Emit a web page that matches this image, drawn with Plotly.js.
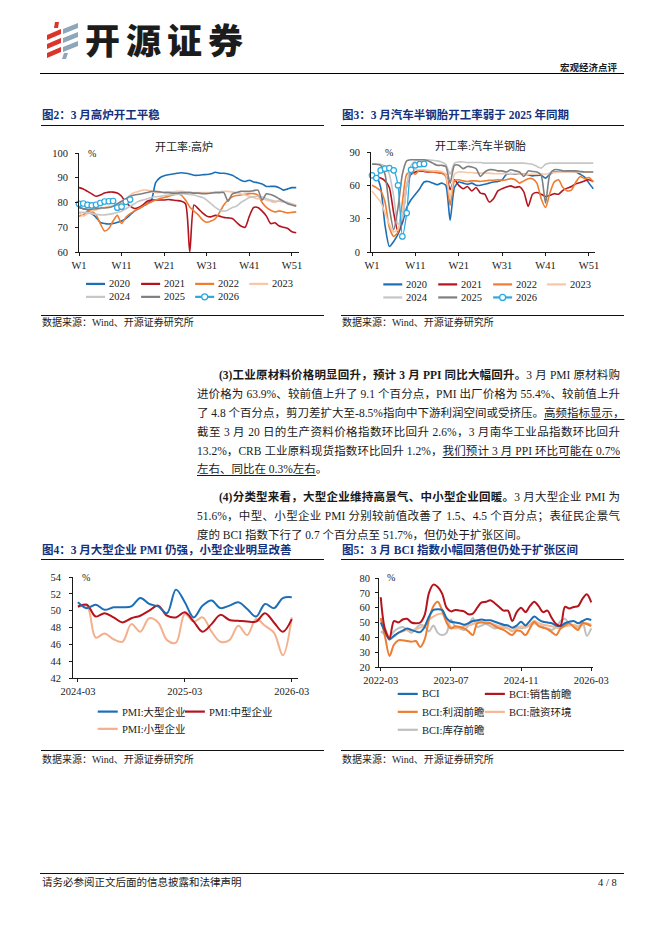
<!DOCTYPE html>
<html>
<head>
<meta charset="utf-8">
<script src="https://cdn.plot.ly/plotly-3.0.1.min.js"></script>
<style>
html,body{margin:0;padding:0;background:#fff;}
#page{position:relative;width:662px;height:936px;overflow:hidden;background:#fff;font-family:"Liberation Serif","Noto Sans CJK SC",serif;color:#1a1a1a;}
.a{position:absolute;white-space:nowrap;}
.rule{position:absolute;height:0;border-top:1px solid #111;}
.ft{position:absolute;white-space:nowrap;font-weight:bold;font-size:11.5px;line-height:14px;color:#15307c;}
.src{position:absolute;white-space:nowrap;font-size:10px;line-height:12px;color:#222;}
.ln{position:absolute;left:197px;width:423px;font-size:11.5px;line-height:19px;height:19px;white-space:nowrap;text-align:justify;text-align-last:justify;}
.ln.first{left:219px;width:401px;}
.ln.last{text-align-last:left;}
.u{text-decoration:underline;text-underline-offset:2px;text-decoration-thickness:1px;}
.chart{position:absolute;}
</style>
</head>
<body>
<div id="page">
  <!-- header -->
  <svg class="a" style="left:0;top:0" width="100" height="70">
    <polygon points="55,22 59,22 58,28 54,28" fill="#d9352b"/>
    <polygon points="47,35 61,29 61,34 47,40" fill="#d9352b"/>
    <polygon points="47,44 61,38 61,43 47,49" fill="#d9352b"/>
    <polygon points="47,53 61,47 61,52 47,58" fill="#d9352b"/>
    <polygon points="63,29 78,23 78,28 63,34" fill="#8ea6ba"/>
    <polygon points="63,38 78,32 78,37 63,43" fill="#8ea6ba"/>
    <polygon points="63,47 78,41 78,46 63,52" fill="#8ea6ba"/>
    <polygon points="64,53 68,53 66,59 62,59" fill="#8ea6ba"/>
  </svg>
  <div class="a" style="left:85px;top:20px;font-family:'Noto Sans CJK SC';font-weight:900;font-size:35px;line-height:38px;letter-spacing:6px;color:#1c1c1c;">开源证券</div>
  <div class="a" style="left:560px;top:61px;font-family:'Noto Sans CJK SC';font-weight:bold;font-size:9.5px;line-height:12px;">宏观经济点评</div>
  <div class="rule" style="left:40px;top:73px;width:584px;border-top:1.5px solid #000;"></div>

  <!-- figure titles top -->
  <div class="ft" style="left:42px;top:108px;">图2：3 月高炉开工平稳</div>
  <div class="rule" style="left:41px;top:125px;width:283px;"></div>
  <div class="ft" style="left:342px;top:108px;">图3：3 月汽车半钢胎开工率弱于 2025 年同期</div>
  <div class="rule" style="left:341px;top:125px;width:283px;"></div>

  <div id="c2" class="chart" style="left:30px;top:132px;width:300px;height:180px;"></div>
  <div id="c3" class="chart" style="left:330px;top:132px;width:300px;height:180px;"></div>

  <div class="rule" style="left:41px;top:315px;width:283px;"></div>
  <div class="src" style="left:42px;top:317px;">数据来源：Wind、开源证券研究所</div>
  <div class="rule" style="left:341px;top:315px;width:283px;"></div>
  <div class="src" style="left:342px;top:317px;">数据来源：Wind、开源证券研究所</div>

  <!-- body text -->
  <div class="ln first" style="top:365.5px;"><b>(3)工业原材料价格明显回升，预计 3 月 PPI 同比大幅回升。</b>3 月 PMI 原材料购</div>
  <div class="ln" style="top:384.5px;">进价格为 63.9%、较前值上升了 9.1 个百分点，PMI 出厂价格为 55.4%、较前值上升</div>
  <div class="ln" style="top:403.5px;">了 4.8 个百分点，剪刀差扩大至-8.5%指向中下游利润空间或受挤压。<span class="u">高频指标显示，</span></div>
  <div class="ln" style="top:422.5px;">截至 3 月 20 日的生产资料价格指数环比回升 2.6%，3 月南华工业品指数环比回升</div>
  <div class="ln" style="top:441.5px;">13.2%，CRB 工业原料现货指数环比回升 1.2%，<span class="u">我们预计 3 月 PPI 环比可能在 0.7%</span></div>
  <div class="ln last" style="top:460px;"><span class="u">左右、同比在 0.3%左右</span>。</div>

  <div class="ln first" style="top:487.5px;"><b>(4)分类型来看，大型企业维持高景气、中小型企业回暖。</b>3 月大型企业 PMI 为</div>
  <div class="ln" style="top:506.5px;">51.6%，中型、小型企业 PMI 分别较前值改善了 1.5、4.5 个百分点；表征民企景气</div>
  <div class="ln last" style="top:525.5px;">度的 BCI 指数下行了 0.7 个百分点至 51.7%，但仍处于扩张区间。</div>

  <!-- figure titles bottom -->
  <div class="ft" style="left:42px;top:543px;">图4：3 月大型企业 PMI 仍强，小型企业明显改善</div>
  <div class="rule" style="left:41px;top:559px;width:283px;"></div>
  <div class="ft" style="left:342px;top:543px;">图5：3 月 BCI 指数小幅回落但仍处于扩张区间</div>
  <div class="rule" style="left:341px;top:559px;width:283px;"></div>

  <div id="c4" class="chart" style="left:30px;top:562px;width:300px;height:180px;"></div>
  <div id="c5" class="chart" style="left:330px;top:562px;width:300px;height:180px;"></div>

  <div class="rule" style="left:41px;top:750px;width:283px;"></div>
  <div class="src" style="left:42px;top:754px;">数据来源：Wind、开源证券研究所</div>
  <div class="rule" style="left:341px;top:750px;width:283px;"></div>
  <div class="src" style="left:342px;top:754px;">数据来源：Wind、开源证券研究所</div>

  <!-- footer -->
  <div class="rule" style="left:40px;top:873px;width:584px;"></div>
  <div class="a" style="left:42px;top:876px;font-size:10.5px;line-height:13px;">请务必参阅正文后面的信息披露和法律声明</div>
  <div class="a" style="left:598px;top:876px;font-size:10.5px;line-height:13px;">4 / 8</div>
</div>

<script>
// ---------------- DATA ----------------
const weekCats = Array.from({length: 52}, (_, i) => 'W' + (i + 1));
const weekTicks = ['W1', 'W11', 'W21', 'W31', 'W41', 'W51'];
const yearNames = ['2020', '2021', '2022', '2023', '2024', '2025', '2026'];

// 开工率:高炉 (%)
const blast2020 = [78,77.5,77,75.5,74,72,71.5,71.3,71.5,72, 72.5,73.5,75,76.5,77.5,78.5,79.5,81,88,90, 90.8,91.2,91.5,91.8,92,91.8,91.5,91,91,91.2, 91.3,91.6,92.2,91.8,91.8,91.5,91,90,89,88.5, 89,88.3,88,87.5,86.5,86.5,86.5,86,85,85.5, 86,86];
const blast2021 = [86,85.5,84.5,83.5,82.5,83,83.8,84.2,84.2,83.8, 82.5,80,78.5,77.6,78,79,80.5,81,81,81, 81,81.2,81,80.8,80.5,79.5,60,79,77.5,75.8, 74.5,74.2,74.8,74.5,74,73.8,73.5,72,70.5,70, 74.5,78,78,76.5,74.5,71.5,71.8,70.5,70,69.5, 68.2,67.8];
const blast2022 = [74.5,75,76.5,76.5,75,71.5,68.5,69.5,72.5,74.8, 71.5,74,75.5,76.5,77.5,78.5,79.5,80.2,81,81.6, 82,82.5,83,83.5,83,81,78.2,76.5,75,73, 72,72.5,73.5,76,79,81,82.3,82.8,83,83.3, 83.6,83.6,83,80,78,76.9,76.2,76.6,76.2,75.8, 76,76.2];
const blast2023 = [76,74.5,75.5,76.5,77,77.5,78,78.5,78.5,79, 80,81.5,83,84,84.5,85,85,84.5,84,84, 84.2,84.3,84.3,84.5,84.5,84.3,84.2,84,84,84, 84,84,84.2,84.3,84.5,84.5,84.3,84,83.5,83, 82.5,82,81.5,81.5,81,80.5,80,81,80.5,80, 79.5,79];
const blast2024 = [76,76,75.8,75.5,75.2,75,75,75.2,75.5,76, 76.5,77.5,78.5,79.5,80.5,81,81.5,82,82.3,82.5, 82.8,83,83.2,83.3,83.5,83.5,83.2,83,82.5,82, 81,79.5,78,77,76.5,77,78,78.5,80,81, 82,82.3,82.5,82.3,81.5,81,80.5,80.5,80.2,80, 79,78.5];
const blast2025 = [78,77.5,77.3,77.3,77.5,77.8,77.8,78,78.5,79.5, 80.5,81.5,82.5,83,83.3,83.6,84,84.5,84.5,84.3, 84,84,83.8,83.8,84,84,84,83.8,83.8,83.6, 83.6,83.8,84,84,84,80.5,83.5,84,84.5,84.5, 84.5,84.8,85,81,83.5,83.2,82.5,81.5,80.5,79.5, 79,78.6];
const blast2026 = [79.5,79.6,79.0,78.8,79.1,79.8,80.4,80.5,80.6,77.9,78.3,80.3,81.2];

// 开工率:汽车半钢胎 (%)
const tire2020 = [67,68,58,24,5,9.5,16,26,40,47, 52,57,63,63.5,62,60.5,62,60,28.5,58, 63,62,61,62,60,60,61,62,63,63.5, 65,70,70.5,70,70,70,69.5,68.5,69,69, 66.5,70,72,72.5,72.5,72.5,72.5,72,70,67.5, 62,57];
const tire2021 = [68,67.5,66.5,64,58,35,18,30,60,70, 72,73,72.5,72,72,71.5,71,70,56,65, 60,57,59,55,58,53,52,45,48,55, 57,58.5,59.5,58,58.8,54,41,52,53.5,52, 50,51,52.5,52,55.5,57.5,59,61.5,62.5,64, 65,63.5];
const tire2022 = [60,58,55,45,22,14,18,45,70,72, 70,74,73,72.5,72,72,71,68,42,64, 65,64,63.5,64,64,63.5,64,64.5,64.5,65, 64.5,65,66,65,62,64,66,66,62,48, 40,53,63,65,58,55,56,63,68,66, 67,63];
const tire2023 = [55,50,45,35,25,18,20,35,60,72, 74,74,74,73.5,73,73,72.5,70,48,70, 72,72,71.5,71.5,71,71,71,71,70.5,70.5, 70.5,70.5,70.5,70.5,70,70,70,70,70,70.5, 70,71,71.5,72,72,72,72,72,72,72, 72,72];
const tire2024 = [79,79,79,77,70,50,25,30,60,78, 82,83,83,83,82.5,82,81,79,70,80, 81,81,80.5,80.5,80.5,80.5,80,80,80,80, 80,80,80,80,80,80,79.5,79,77,75.5, 79,80,80,80,80,80,80,80,80,80, 80,80];
const tire2025 = [79,79,78,70,40,20,40,70,82,83, 83,83,83,82,80,78,78,77,62,78, 78,75,77,76.5,75,68,72,74,74,73, 73,72,74,73,72,68,73,72.5,72,69, 44,70,74,74,73,73,73,73,72.5,72, 72,72];
const tire2026 = [69,66.5,73.5,75,75.5,73.5,60,14,35,74,78,79,79.3];

// PMI (%), 2024-03 .. 2026-03
const pmiNames = ['PMI:大型企业', 'PMI:中型企业', 'PMI:小型企业'];
const pmiLarge  = [51.0,50.3,50.7,50.1,50.4,50.4,50.5,51.5,50.8,50.5,49.7,52.5,51.0,49.2,50.6,51.2,50.3,50.6,51.0,50.2,49.3,50.8,50.3,51.5,51.6];
const pmiMedium = [50.5,50.7,49.3,49.7,49.2,48.6,49.1,49.4,50.0,50.6,49.4,49.2,49.8,48.7,47.5,48.4,49.5,48.9,48.8,48.7,48.7,49.7,48.6,47.5,49.0];
const pmiSmall  = [50.4,50.6,46.8,47.3,46.6,46.3,48.4,47.5,49.1,48.6,46.5,46.2,49.6,48.7,49.2,47.5,46.3,46.5,48.2,47.1,49.0,48.2,47.4,44.7,49.2];
const pmiTicks = ['2024-03', '2025-03', '2026-03'];

// BCI (%), 2022-03 .. 2026-03
const bciNames = ['BCI', 'BCI:销售前瞻', 'BCI:利润前瞻', 'BCI:融资环境', 'BCI:库存前瞻'];
const bciIndex     = [50,44,38.5,41,43,44.5,46,45,44,43.5, 47,54,58.5,59,58.5,53,50.5,50,49.5,48.5, 49.5,51,51.5,52,51.5,51.5,50.5,49.5,48.5,48, 46.5,48,50.5,48,51,54,52,50.5,50,49.5, 48,47.5,49.5,50.5,51,49.5,51,52.4,51.7];
const bciSales     = [67,45,39.5,51,50,52,52.5,50,49.5,50, 55,70,75.5,74,69.5,60,57.5,58.5,58,57.5, 55.5,56,60,63.5,64,65,63,60.5,58,58, 51,57,60,57,61,64,61,57,58,53, 49,48,60.5,59.5,60.5,61,66,69,63.5];
const bciProfit    = [53,40,27.5,35,38,38,37.5,37,37.5,33.5, 38.5,52,61,64,58,50,46,47.5,47,46, 44,41.5,49.5,50,49.5,49.5,47.5,46,45,43, 41.5,44.5,44,41.5,46,50.5,47.5,46.5,45.5,43.5, 41.5,46,48,49.5,47,45,49.5,49,47.5];
const bciFinance   = [52,46,40,40.5,43,44,45,44,45.5,46.5, 48,52,54,55.5,56,52,47,46,46.5,47.5, 48,49,50.5,50.5,50,49.5,48.5,47.5,46.5,46, 44.5,45.5,47.5,46.5,48.5,51,49.5,48.5,48,47.5, 46.5,46,47.5,48,48.5,47.5,48.5,49.5,48.5];
const bciInventory = [44,42,40.5,44,46,47,45,43,46,48.5, 47.5,44,48,43,41.5,43,52,47,46,45, 48,53,47,48,49,47.5,46,47,47.5,46, 44,47,46,47,48,49.5,48,47,46,45, 47,51,52.5,49,48,46.5,50.5,41,46];
const bciTicks = ['2022-03', '2023-07', '2024-11', '2026-03'];

function monthLabels(y, m, n) {
  const out = [];
  for (let i = 0; i < n; i++) {
    out.push(y + '-' + String(m).padStart(2, '0'));
    m++; if (m > 12) { m = 1; y++; }
  }
  return out;
}
const pmiMonths = monthLabels(2024, 3, pmiLarge.length);
const bciMonths = monthLabels(2022, 3, bciIndex.length);

// ---------------- STYLE / HELPERS ----------------
const FONT = 'Liberation Serif, Noto Sans CJK SC, serif';
const yearColors = ['#1c6fb6', '#b3141e', '#ee7d31', '#f7c7a8', '#c6c6c6', '#7f7f7f', '#29a9e0'];
const pmiColors = ['#1c6fb6', '#b3141e', '#f4b08c'];
const bciColors = ['#1c6fb6', '#b3141e', '#ed7d31', '#f6b991', '#bfbfbf'];

function geo(div, plot) {
  return {div, l: plot.x0 - div.left, t: plot.y0 - div.top, w: plot.x1 - plot.x0, h: plot.y1 - plot.y0};
}
function px(g, x) { return (x - g.div.left - g.l) / g.w; }
function py(g, y) { return 1 - (y - g.div.top - g.t) / g.h; }

function axis(extra) {
  return Object.assign({
    showline: true, linecolor: '#1a1a1a', linewidth: 1,
    ticks: 'outside', ticklen: 3, tickwidth: 1, tickcolor: '#1a1a1a',
    showgrid: false, zeroline: false, fixedrange: true, automargin: false,
    tickfont: {family: FONT, size: 10.5, color: '#1a1a1a'}
  }, extra);
}

function legendBits(g, items) {
  const shapes = [], ann = [];
  items.forEach(it => {
    shapes.push({type: 'line', xref: 'paper', yref: 'paper', x0: px(g, it.x0), x1: px(g, it.x1),
      y0: py(g, it.y), y1: py(g, it.y), line: {color: it.color, width: 2.2}});
    if (it.marker) {
      const cx = (it.x0 + it.x1) / 2, r = 3;
      shapes.push({type: 'circle', xref: 'paper', yref: 'paper', x0: px(g, cx - r), x1: px(g, cx + r),
        y0: py(g, it.y + r), y1: py(g, it.y - r), line: {color: it.color, width: 1.3}, fillcolor: '#fff'});
    }
    ann.push({xref: 'paper', yref: 'paper', x: px(g, it.x1 + 2), y: py(g, it.y), xanchor: 'left', yanchor: 'middle',
      text: it.name, showarrow: false, font: {family: FONT, size: 10.5, color: '#1a1a1a'}});
  });
  return {shapes, ann};
}

function textAnn(g, x, y, text, size, anchor) {
  return {xref: 'paper', yref: 'paper', x: px(g, x), y: py(g, y), xanchor: anchor || 'center', yanchor: 'middle',
    text, showarrow: false, font: {family: FONT, size, color: '#1a1a1a'}};
}

function baseLayout(g) {
  return {
    width: g.div.width, height: g.div.height,
    margin: {l: g.l, t: g.t, r: g.div.width - g.l - g.w, b: g.div.height - g.t - g.h, pad: 0},
    paper_bgcolor: 'rgba(0,0,0,0)', plot_bgcolor: 'rgba(0,0,0,0)',
    showlegend: false, font: {family: FONT, size: 10.5, color: '#1a1a1a'}, hovermode: false
  };
}
const cfg = {staticPlot: true, displayModeBar: false, responsive: false};

function weekTraces(series, smooth) {
  return series.map((ys, i) => {
    const last = i === series.length - 1;
    const tr = {
      type: 'scatter', mode: last ? 'lines+markers' : 'lines',
      x: weekCats.slice(0, ys.length), y: ys, name: yearNames[i],
      line: {color: yearColors[i], width: last ? 1.3 : 1.6, shape: 'spline', smoothing: smooth},
      cliponaxis: !last, hoverinfo: 'skip'
    };
    if (last) tr.marker = {symbol: 'circle', size: 5.5, color: '#fff', line: {color: yearColors[i], width: 1.2}};
    return tr;
  });
}

function yearLegend(g, xs, rows) {
  const items = yearNames.map((n, i) => ({
    name: n, color: yearColors[i], x0: xs[i % 4], x1: xs[i % 4] + 19, y: rows[Math.floor(i / 4)], marker: i === yearNames.length - 1
  }));
  return legendBits(g, items);
}

function safePlot(id, traces, L) {
  try { Plotly.newPlot(id, traces, L, cfg); } catch (e) { console.error(e); }
}

// ---------------- CHART 2: 高炉 ----------------
(function () {
  const g = geo({left: 30, top: 132, width: 300, height: 180}, {x0: 79, x1: 298.7, y0: 152.7, y1: 252});
  const L = baseLayout(g);
  L.xaxis = axis({type: 'category', categoryorder: 'array', categoryarray: weekCats, range: [0, 51.65], tickmode: 'array', tickvals: weekTicks, ticktext: weekTicks, ticklabelstandoff: 0});
  L.yaxis = axis({range: [60, 100], tickmode: 'linear', tick0: 60, dtick: 10, ticklabelstandoff: 5});
  const lg = yearLegend(g, [86, 141, 195, 249], [284, 297]);
  L.shapes = lg.shapes;
  L.annotations = lg.ann.concat([
    textAnn(g, 183.5, 146.5, '开工率:高炉', 11),
    textAnn(g, 92, 153, '%', 10)
  ]);
  safePlot('c2', weekTraces([blast2020, blast2021, blast2022, blast2023, blast2024, blast2025, blast2026], 0.7), L);
})();

// ---------------- CHART 3: 汽车半钢胎 ----------------
(function () {
  const g = geo({left: 330, top: 132, width: 300, height: 180}, {x0: 370.7, x1: 595, y0: 152, y1: 251.7});
  const L = baseLayout(g);
  L.xaxis = axis({type: 'category', categoryorder: 'array', categoryarray: weekCats, range: [-0.23, 51.4], tickmode: 'array', tickvals: weekTicks, ticktext: weekTicks, ticklabelstandoff: 0});
  L.yaxis = axis({range: [0, 90], tickmode: 'linear', tick0: 0, dtick: 30, ticklabelstandoff: 5});
  const lg = yearLegend(g, [383, 438, 493, 547], [284, 297]);
  L.shapes = lg.shapes;
  L.annotations = lg.ann.concat([
    textAnn(g, 480, 145.7, '开工率:汽车半钢胎', 11),
    textAnn(g, 389, 152.5, '%', 10)
  ]);
  safePlot('c3', weekTraces([tire2020, tire2021, tire2022, tire2023, tire2024, tire2025, tire2026], 0.6), L);
})();

// ---------------- CHART 4: PMI ----------------
(function () {
  const g = geo({left: 30, top: 562, width: 300, height: 180}, {x0: 73.3, x1: 298, y0: 576.7, y1: 678});
  const L = baseLayout(g);
  L.xaxis = axis({type: 'category', categoryorder: 'array', categoryarray: pmiMonths, range: [-0.55, 24.7], tickmode: 'array', tickvals: pmiTicks, ticktext: pmiTicks, ticklabelstandoff: 0});
  L.yaxis = axis({range: [42, 54], tickmode: 'linear', tick0: 42, dtick: 2, ticklabelstandoff: 6});
  const series = [pmiLarge, pmiMedium, pmiSmall];
  const pos = [[98, 711.7], [185, 711.7], [98, 729]];
  const lg = legendBits(g, pmiNames.map((n, i) => ({name: n, color: pmiColors[i], x0: pos[i][0], x1: pos[i][0] + 20, y: pos[i][1]})));
  L.shapes = lg.shapes;
  L.annotations = lg.ann.concat([textAnn(g, 86.7, 577, '%', 10)]);
  const order = [2, 1, 0];
  const traces = order.map(i => ({type: 'scatter', mode: 'lines', x: pmiMonths, y: series[i], name: pmiNames[i],
    line: {color: pmiColors[i], width: 2, shape: 'spline', smoothing: 1}, hoverinfo: 'skip'}));
  safePlot('c4', traces, L);
})();

// ---------------- CHART 5: BCI ----------------
(function () {
  const g = geo({left: 330, top: 562, width: 300, height: 180}, {x0: 379.3, x1: 593, y0: 577.7, y1: 667});
  const L = baseLayout(g);
  L.xaxis = axis({type: 'category', categoryorder: 'array', categoryarray: bciMonths, range: [-0.4, 48.4], tickmode: 'array', tickvals: bciTicks, ticktext: bciTicks, ticklabelstandoff: 0});
  L.yaxis = axis({range: [20, 80], tickmode: 'linear', tick0: 20, dtick: 10, ticklabelstandoff: 3});
  const series = [bciIndex, bciSales, bciProfit, bciFinance, bciInventory];
  const pos = [[398, 694], [485, 694], [398, 712], [485, 712], [398, 730]];
  const lg = legendBits(g, bciNames.map((n, i) => ({name: n, color: bciColors[i], x0: pos[i][0], x1: pos[i][0] + 20, y: pos[i][1]})));
  L.shapes = lg.shapes;
  L.annotations = lg.ann.concat([textAnn(g, 391.7, 577.5, '%', 10)]);
  const order = [4, 3, 2, 0, 1];
  const traces = order.map(i => ({type: 'scatter', mode: 'lines', x: bciMonths, y: series[i], name: bciNames[i],
    line: {color: bciColors[i], width: 2, shape: 'spline', smoothing: 0.9}, hoverinfo: 'skip'}));
  safePlot('c5', traces, L);
})();
</script>
</body>
</html>
